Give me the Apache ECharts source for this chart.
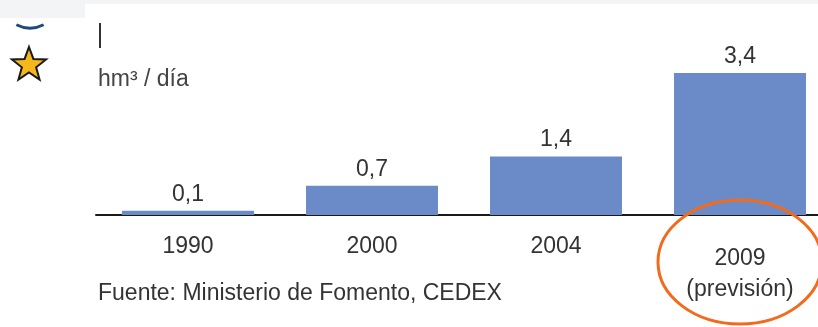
<!DOCTYPE html>
<html><head><meta charset="utf-8">
<script src="https://cdn.jsdelivr.net/npm/echarts@6/dist/echarts.min.js"></script>
<style>html,body{margin:0;padding:0;background:#fff}#c{width:818px;height:327px}</style>
</head><body><div id="c"></div>
<script>
var categories = ['1990', '2000', '2004', '2009'];
var categoryLabels = ['1990', '2000', '2004', '2009\n(previsión)'];
var values = [0.1, 0.7, 1.4, 3.4];
var unitLabel = 'hm³ / día';
var sourceLabel = 'Fuente: Ministerio de Fomento, CEDEX';

var FONT = "'Liberation Sans', Arial, sans-serif";
var FS = 23;
var chart = echarts.init(document.getElementById('c'), null, {renderer: 'canvas'});
chart.setOption({
  animation: false,
  backgroundColor: '#fff',
  grid: {left: 96, top: 73, right: -14, height: 142, outerBoundsMode: 'none', containLabel: false},
  xAxis: {
    type: 'category',
    data: categories,
    axisLine: {lineStyle: {color: '#1a1a1a', width: 2}},
    axisTick: {show: false},
    axisLabel: {
      margin: 20,
      color: '#333',
      fontFamily: FONT,
      fontSize: FS,
      formatter: function (v, i) {
        return i === 3 ? '{p|' + categoryLabels[i] + '}' : categoryLabels[i];
      },
      rich: {p: {fontFamily: FONT, fontSize: FS, color: '#333', lineHeight: 31, padding: [17, 0, 0, 0]}}
    }
  },
  yAxis: {type: 'value', min: 0, max: 3.4, show: false, splitLine: {show: false}},
  series: [{
    type: 'bar',
    data: values,
    barWidth: 132,
    itemStyle: {color: '#6a8bc8'},
    label: {
      show: true,
      position: 'top',
      distance: 5,
      color: '#333',
      fontFamily: FONT,
      fontSize: FS,
      formatter: function (p) { return String(p.value).replace('.', ','); }
    }
  }],
  graphic: [
    {type: 'rect', shape: {x: 0, y: 0, width: 85, height: 18}, style: {fill: '#f3f4f6'}, z: 0},
    {type: 'rect', shape: {x: 85, y: 0, width: 733, height: 4}, style: {fill: '#f3f4f6'}, z: 0},
    {type: 'arc', shape: {cx: 30, cy: -2, r: 30, startAngle: Math.PI * 0.35, endAngle: Math.PI * 0.65}, style: {stroke: '#1d4a78', lineWidth: 3, fill: null}},
    {type: 'polygon', shape: {points: (function () {
      var pts = [], cx = 29, cy = 65, R = 18, r = 7.5;
      for (var k = 0; k < 10; k++) {
        var a = -Math.PI / 2 + k * Math.PI / 5, rr = k % 2 ? r : R;
        pts.push([cx + rr * Math.cos(a), cy + rr * Math.sin(a)]);
      }
      return pts;
    })()}, style: {fill: '#f4b81c', stroke: '#1a1a1a', lineWidth: 2}},
    {type: 'line', shape: {x1: 100, y1: 23, x2: 100, y2: 48}, style: {stroke: '#333', lineWidth: 2}},
    {type: 'text', left: 98, top: 68, style: {text: unitLabel, fontFamily: FONT, fontSize: FS, fill: '#444'}},
    {type: 'text', left: 98, top: 282, style: {text: sourceLabel, fontFamily: FONT, fontSize: FS, fill: '#333'}},
    {type: 'ellipse', shape: {cx: 740, cy: 262, rx: 82, ry: 62}, style: {stroke: '#f26a1b', lineWidth: 3, fill: null}, z: 100}
  ]
});
</script></body></html>
